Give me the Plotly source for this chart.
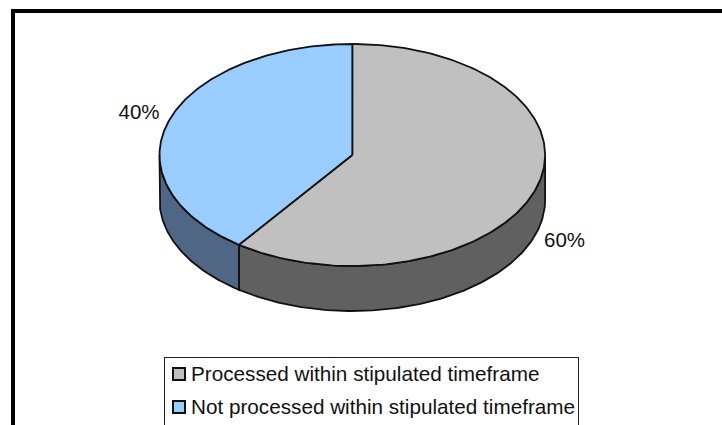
import numpy as np
import plotly.graph_objects as go

categories = ["Processed within stipulated timeframe", "Not processed within stipulated timeframe"]
values = [60, 40]
top_colors = ["#C0C0C0", "#99CCFF"]
side_colors = ["#606060", "#4F6785"]
label_pos = [(564.5, 242), (139, 114)]

W, H = 722, 425
CX, CY, RX, RY, DEPTH = 352.3, 155, 192.8, 111, 45
LINE = "#111111"


def ell(a):
    a = np.radians(a)
    return CX + RX * np.sin(a), CY - RY * np.cos(a)


fig = go.Figure()
fracs = np.array(values) / sum(values) * 360
starts = np.concatenate([[0], np.cumsum(fracs)[:-1]])

# sides first (only the front half of the rim is visible: 90..270 degrees)
for s, f, c in zip(starts, fracs, side_colors):
    a0, a1 = max(s, 90), min(s + f, 270)
    if a1 <= a0:
        continue
    t = np.linspace(a0, a1, 160)
    x, y = ell(t)
    fig.add_trace(go.Scatter(
        x=np.concatenate([x, x[::-1], x[:1]]),
        y=np.concatenate([y, y[::-1] + DEPTH, y[:1]]),
        mode="lines", fill="toself", fillcolor=c,
        line=dict(color=LINE, width=1.8), hoverinfo="skip", showlegend=False))

# top faces
for s, f, c in zip(starts, fracs, top_colors):
    t = np.linspace(s, s + f, 240)
    x, y = ell(t)
    fig.add_trace(go.Scatter(
        x=np.concatenate([[CX], x, [CX]]),
        y=np.concatenate([[CY], y, [CY]]),
        mode="lines", fill="toself", fillcolor=c,
        line=dict(color=LINE, width=1.8), hoverinfo="skip", showlegend=False))

# percent labels
fig.add_trace(go.Scatter(
    x=[p[0] for p in label_pos], y=[p[1] for p in label_pos],
    mode="text", text=[f"{v}%" for v in values],
    textposition="middle center",
    textfont=dict(family="Liberation Sans", size=20.5, color="#111111"),
    hoverinfo="skip", showlegend=False))

# legend
legend_y = [374, 407]
fig.add_trace(go.Scatter(
    x=[179, 179], y=legend_y, mode="markers",
    marker=dict(symbol="square", size=12, color=top_colors, line=dict(color="#111111", width=2)),
    hoverinfo="skip", showlegend=False))

shapes = [
    # outer frame
    dict(type="line", x0=13, x1=13, y0=9, y1=H, line=dict(color="black", width=4)),
    dict(type="line", x0=11, x1=W, y0=11, y1=11, line=dict(color="black", width=4)),
    # legend box, open at the clipped bottom
    dict(type="line", x0=164.5, x1=578.5, y0=357.5, y1=357.5, line=dict(color="#222222", width=1)),
    dict(type="line", x0=164.5, x1=164.5, y0=357, y1=H, line=dict(color="#222222", width=1)),
    dict(type="line", x0=578.5, x1=578.5, y0=357, y1=H, line=dict(color="#222222", width=1)),
]
annotations = [
    dict(x=191, y=yy - 1, text=t, xref="x", yref="y", xanchor="left", yanchor="middle", showarrow=False,
         xshift=-2, font=dict(family="Liberation Sans", size=20.7, color="#111111"))
    for yy, t in zip(legend_y, categories)
]

fig.update_layout(
    width=W, height=H, margin=dict(l=0, r=0, t=0, b=0),
    paper_bgcolor="white", plot_bgcolor="white",
    xaxis=dict(range=[0, W], visible=False, fixedrange=True),
    yaxis=dict(range=[H, 0], visible=False, fixedrange=True),
    shapes=shapes, annotations=annotations, showlegend=False,
)
fig.write_html(
    "out.html",
    config={"displayModeBar": False},
    post_script="document.documentElement.style.overflow='hidden';document.body.style.margin='0';",
)
